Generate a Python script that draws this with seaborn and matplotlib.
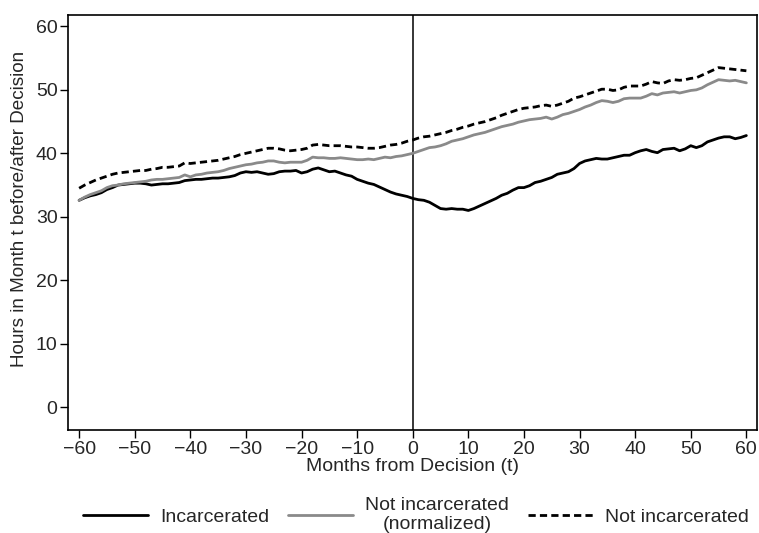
import matplotlib
matplotlib.use("Agg")
import matplotlib.pyplot as plt
import seaborn as sns
import pandas as pd

# Months relative to the court decision
months = list(range(-60, 61))

incarcerated = [
    32.6, 33.0, 33.3, 33.5, 33.8, 34.3, 34.6, 35.0, 35.1, 35.2,
    35.3, 35.3, 35.2, 35.0, 35.1, 35.2, 35.2, 35.3, 35.4, 35.7,
    35.8, 35.9, 35.9, 36.0, 36.1, 36.1, 36.2, 36.3, 36.5, 36.9,
    37.1, 37.0, 37.1, 36.9, 36.7, 36.8, 37.1, 37.2, 37.2, 37.3,
    36.9, 37.1, 37.5, 37.7, 37.4, 37.1, 37.2, 36.9, 36.6, 36.4,
    35.9, 35.6, 35.3, 35.1, 34.7, 34.3, 33.9, 33.6, 33.4, 33.2,
    32.9, 32.7, 32.6, 32.3, 31.8, 31.3, 31.2, 31.3, 31.2, 31.2,
    31.0, 31.3, 31.7, 32.1, 32.5, 32.9, 33.4, 33.7, 34.2, 34.6,
    34.6, 34.9, 35.4, 35.6, 35.9, 36.2, 36.7, 36.9, 37.1, 37.6,
    38.4, 38.8, 39.0, 39.2, 39.1, 39.1, 39.3, 39.5, 39.7, 39.7,
    40.1, 40.4, 40.6, 40.3, 40.1, 40.6, 40.7, 40.8, 40.4, 40.7,
    41.2, 40.9, 41.2, 41.8, 42.1, 42.4, 42.6, 42.6, 42.3, 42.5,
    42.8,
]

not_incarcerated_norm = [
    32.6, 33.1, 33.5, 33.8, 34.1, 34.6, 34.9, 35.0, 35.2, 35.3,
    35.4, 35.5, 35.6, 35.8, 35.9, 35.9, 36.0, 36.1, 36.2, 36.6,
    36.3, 36.6, 36.7, 36.9, 37.0, 37.1, 37.3, 37.6, 37.8, 38.0,
    38.2, 38.3, 38.5, 38.6, 38.8, 38.8, 38.6, 38.5, 38.6, 38.6,
    38.6, 38.9, 39.4, 39.3, 39.3, 39.2, 39.2, 39.3, 39.2, 39.1,
    39.0, 39.0, 39.1, 39.0, 39.2, 39.4, 39.3, 39.5, 39.6, 39.8,
    40.0, 40.3, 40.6, 40.9, 41.0, 41.2, 41.5, 41.9, 42.1, 42.3,
    42.6, 42.9, 43.1, 43.3, 43.6, 43.9, 44.2, 44.4, 44.6, 44.9,
    45.1, 45.3, 45.4, 45.5, 45.7, 45.4, 45.7, 46.1, 46.3, 46.6,
    46.9, 47.3, 47.6, 48.0, 48.3, 48.2, 48.0, 48.2, 48.6, 48.7,
    48.7, 48.7, 49.0, 49.4, 49.2, 49.5, 49.6, 49.7, 49.5, 49.7,
    49.9, 50.0, 50.3, 50.8, 51.2, 51.6, 51.5, 51.4, 51.5, 51.3,
    51.1,
]

not_incarcerated = [
    34.5, 35.0, 35.4, 35.8, 36.1, 36.4, 36.7, 36.9, 37.0, 37.1,
    37.2, 37.3, 37.3, 37.5, 37.6, 37.8, 37.8, 37.9, 38.0, 38.5,
    38.4, 38.5, 38.6, 38.7, 38.8, 38.9, 39.1, 39.3, 39.5, 39.8,
    40.0, 40.2, 40.4, 40.6, 40.8, 40.8, 40.7, 40.5, 40.4, 40.5,
    40.6, 40.8, 41.3, 41.4, 41.3, 41.2, 41.2, 41.2, 41.1, 41.0,
    41.0, 40.9, 40.8, 40.8, 40.9, 41.1, 41.3, 41.4, 41.6, 41.9,
    42.1, 42.4, 42.6, 42.7, 42.9, 43.1, 43.3, 43.6, 43.8, 44.1,
    44.3, 44.6, 44.8, 45.0, 45.3, 45.6, 46.0, 46.3, 46.6, 46.9,
    47.1, 47.2, 47.3, 47.5, 47.6, 47.4, 47.6, 47.9, 48.2, 48.7,
    48.9, 49.2, 49.5, 49.8, 50.1, 50.1, 49.9, 50.0, 50.4, 50.6,
    50.6, 50.6, 50.9, 51.3, 51.1, 51.0, 51.4, 51.6, 51.5, 51.6,
    51.8, 51.9, 52.3, 52.7, 53.1, 53.5, 53.4, 53.3, 53.2, 53.1,
    53.0,
]

series_names = ["Incarcerated", "Not incarcerated\n(normalized)", "Not incarcerated"]
x_ticks = list(range(-60, 61, 10))
y_ticks = list(range(0, 61, 10))

df = pd.DataFrame({
    "month": months * 3,
    "hours": incarcerated + not_incarcerated_norm + not_incarcerated,
    "group": [series_names[0]] * len(months)
             + [series_names[1]] * len(months)
             + [series_names[2]] * len(months),
})

sns.set_style("ticks")
plt.rcParams["font.family"] = ["Liberation Sans", "DejaVu Sans"]

FS = 14

fig = plt.figure(figsize=(7.59, 5.33), dpi=100)
ax = fig.add_axes([0.0896, 0.193, 0.9084, 0.779])

palette = {series_names[0]: "#000000", series_names[1]: "#8a8a8a", series_names[2]: "#000000"}
dashes = {series_names[0]: "", series_names[1]: "", series_names[2]: (2.6, 1.5)}

sns.lineplot(data=df, x="month", y="hours", hue="group", style="group",
             palette=palette, dashes=dashes, hue_order=series_names,
             style_order=series_names, linewidth=2.0, ax=ax, legend=True)

ax.axvline(0, color="black", linewidth=1.1, zorder=1)

ax.set_xlim(-62, 62)
ax.set_ylim(-3.6, 61.8)
ax.set_xticks(x_ticks)
ax.set_yticks(y_ticks)
ax.set_xticklabels([str(v).replace("-", "\u2212") for v in x_ticks])
ax.set_yticklabels([str(v) for v in y_ticks])
ax.tick_params(axis="both", labelsize=FS, length=5.5, width=1.0, color="black", pad=2)
for s in ax.spines.values():
    s.set_visible(True)
    s.set_linewidth(1.2)
    s.set_color("black")

ax.set_xlabel("Months from Decision (t)", fontsize=FS, labelpad=0)
ax.set_ylabel("Hours in Month t before/after Decision", fontsize=13.6)
ax.yaxis.set_label_coords(-0.058, 0.533)

handles, labels = ax.get_legend_handles_labels()
ax.get_legend().remove()
leg = fig.legend(handles, labels, loc="center", bbox_to_anchor=(0.548, 0.033), ncol=3,
                 frameon=False, fontsize=FS, handlelength=3.35, columnspacing=0.95,
                 handletextpad=0.62)
for t in leg.get_texts():
    t.set_multialignment("center")
    t.set_linespacing(1.15)

fig.savefig("out.png", dpi=100)
